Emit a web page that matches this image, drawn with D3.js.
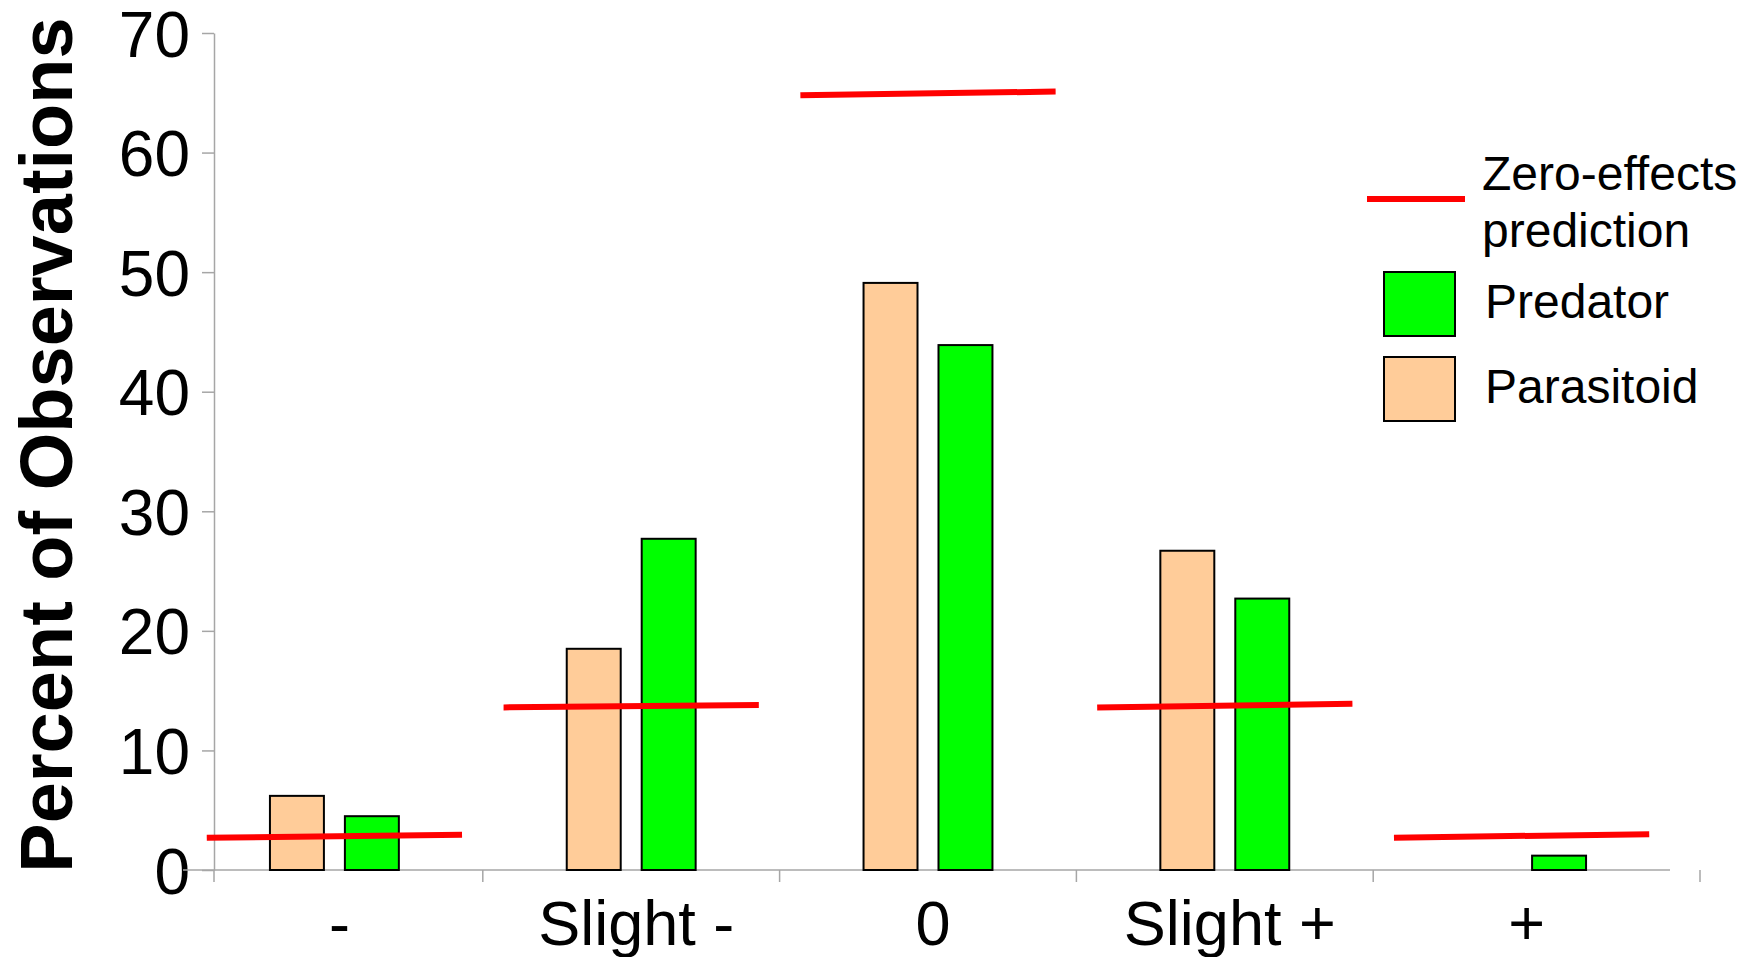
<!DOCTYPE html>
<html>
<head>
<meta charset="utf-8">
<script src="https://cdn.jsdelivr.net/npm/d3@7"></script>
<style>
  html, body { margin: 0; padding: 0; background: #fff; }
  svg { display: block; }
  text { font-family: "Liberation Sans", Arial, Helvetica, sans-serif; fill: #000; }
</style>
</head>
<body>
<svg id="chart" width="1751" height="957"></svg>
<script>
// ---- data ----
const categories = ["-", "Slight -", "0", "Slight +", "+"];
const seriesNames = ["Parasitoid", "Predator"];
const parasitoid = [6.2, 18.5, 49.1, 26.7, 0];
const predator = [4.5, 27.7, 43.9, 22.7, 1.2];
const zeroStart = [2.7, 13.6, 64.8, 13.6, 2.7];
const zeroEnd = [2.95, 13.8, 65.1, 13.9, 3.0];
const yTicks = [0, 10, 20, 30, 40, 50, 60, 70];
const yTitle = "Percent of Observations";
const legendLabels = ["Zero-effects", "prediction", "Predator", "Parasitoid"];

const colors = { Parasitoid: "#FFCC99", Predator: "#00FF00", zero: "#FF0000" };

const svg = d3.select("#chart");

const y = d3.scaleLinear().domain([0, 70]).range([870, 33]);
const x = d3.scaleBand().domain(categories).range([186, 1670]).padding(0);
const xs = d3.scaleBand().domain(seriesNames).range([0, x.bandwidth()])
  .paddingInner(0.28).paddingOuter(1.12);

const axisGray = "#a6a6a6";
const yAxisX = 214;

// y axis
const yAxis = d3.axisLeft(y).tickValues(yTicks).tickSize(12).tickSizeOuter(0).tickPadding(12);
const gy = svg.append("g").attr("transform", `translate(${yAxisX},0)`).call(yAxis);
gy.select(".domain").attr("stroke", axisGray).attr("stroke-width", 1.5);
gy.selectAll(".tick line").attr("stroke", axisGray).attr("stroke-width", 1.5);
gy.selectAll(".tick text")
  .style("font-family", '"Liberation Sans", Arial, sans-serif')
  .style("font-size", "64px")
  .attr("fill", "#000")
  .attr("dy", "0.36em");

// x baseline
const [x0, x1] = x.range();
svg.append("line")
  .attr("x1", x0 - 3).attr("x2", x1)
  .attr("y1", y(0)).attr("y2", y(0))
  .attr("stroke", axisGray).attr("stroke-width", 1.5);

// x ticks at band boundaries (first aligned with y axis, last slightly past end as in reference)
const boundaries = categories.slice(1).map(c => x(c));
const xTickPos = [yAxisX].concat(boundaries).concat([x1 + 30]);
svg.append("g").selectAll("line").data(xTickPos).join("line")
  .attr("x1", d => d).attr("x2", d => d)
  .attr("y1", y(0)).attr("y2", y(0) + 12)
  .attr("stroke", axisGray).attr("stroke-width", 1.5);

// x labels
svg.append("g").selectAll("text").data(categories).join("text")
  .attr("x", d => x(d) + x.bandwidth() / 2 + 5)
  .attr("y", 945)
  .attr("text-anchor", "middle")
  .style("font-size", "63px")
  .text(d => d);

// y title
svg.append("text")
  .attr("transform", `translate(72,445) rotate(-90)`)
  .attr("text-anchor", "middle")
  .style("font-size", "74px")
  .style("font-weight", "bold")
  .text(yTitle);

// bars
const rows = categories.map((c, i) => ({ cat: c, Parasitoid: parasitoid[i], Predator: predator[i] }));
const groups = svg.append("g").selectAll("g").data(rows).join("g")
  .attr("transform", d => `translate(${x(d.cat)},0)`);
groups.selectAll("rect")
  .data(d => seriesNames.map(s => ({ s, v: d[s] })).filter(e => e.v > 0))
  .join("rect")
  .attr("x", e => xs(e.s))
  .attr("width", xs.bandwidth())
  .attr("y", e => y(e.v))
  .attr("height", e => y(0) - y(e.v))
  .attr("fill", e => colors[e.s])
  .attr("stroke", "#000")
  .attr("stroke-width", 2);

// zero-effects prediction lines
const inset = x.bandwidth() * 0.07;
svg.append("g").selectAll("line").data(categories).join("line")
  .attr("x1", d => x(d) + inset)
  .attr("x2", d => x(d) + x.bandwidth() - inset)
  .attr("y1", (d, i) => y(zeroStart[i]))
  .attr("y2", (d, i) => y(zeroEnd[i]))
  .attr("stroke", colors.zero)
  .attr("stroke-width", 6);

// legend
const lg = svg.append("g");
lg.append("line").attr("x1", 1367).attr("x2", 1465).attr("y1", 199).attr("y2", 199)
  .attr("stroke", colors.zero).attr("stroke-width", 6);
lg.append("text").attr("x", 1482).attr("y", 190).style("font-size", "48px").text(legendLabels[0]);
lg.append("text").attr("x", 1482).attr("y", 247).style("font-size", "48px").text(legendLabels[1]);
lg.append("rect").attr("x", 1384).attr("y", 272).attr("width", 71).attr("height", 64)
  .attr("fill", colors.Predator).attr("stroke", "#000").attr("stroke-width", 2);
lg.append("text").attr("x", 1485).attr("y", 318).style("font-size", "48px").text(legendLabels[2]);
lg.append("rect").attr("x", 1384).attr("y", 357).attr("width", 71).attr("height", 64)
  .attr("fill", colors.Parasitoid).attr("stroke", "#000").attr("stroke-width", 2);
lg.append("text").attr("x", 1485).attr("y", 403).style("font-size", "48px").text(legendLabels[3]);
</script>
</body>
</html>
